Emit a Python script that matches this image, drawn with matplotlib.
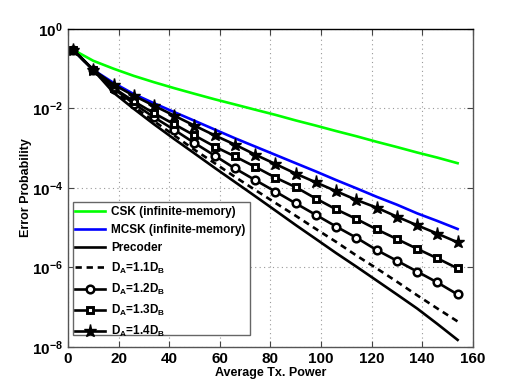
import numpy as np
import matplotlib
matplotlib.use("Agg")
import matplotlib.pyplot as plt
import matplotlib.patches as mpatches
from matplotlib.ticker import FixedLocator, LogFormatterSciNotation, NullLocator

plt.rcParams['font.family'] = ['Liberation Sans', 'DejaVu Sans']
plt.rcParams['font.weight'] = 'bold'
plt.rcParams['mathtext.fontset'] = 'custom'
plt.rcParams['mathtext.rm'] = 'Liberation Sans:bold'
plt.rcParams['mathtext.it'] = 'Liberation Sans:bold'
plt.rcParams['mathtext.bf'] = 'Liberation Sans:bold'

# average tx power
power = [2, 10, 18, 26, 34, 42, 50, 58, 66, 74, 82, 90, 98, 106, 114, 122, 130, 138, 146, 154]

csk = [0.30, 0.158, 0.100, 0.066, 0.0457, 0.0324, 0.0234, 0.0170, 0.0126, 9.3e-3,
       6.9e-3, 5.0e-3, 3.7e-3, 2.7e-3, 2.0e-3, 1.45e-3, 1.07e-3, 7.8e-4, 5.8e-4, 4.2e-4]
mcsk = [0.30, 0.093, 0.044, 0.023, 0.0135, 8.1e-3, 4.9e-3, 2.95e-3, 1.78e-3, 1.10e-3,
        6.8e-4, 4.2e-4, 2.6e-4, 1.58e-4, 9.8e-5, 6.0e-5, 3.8e-5, 2.3e-5, 1.48e-5, 9.3e-6]
precoder = [0.30, 0.093, 0.025, 9.8e-3, 4.0e-3, 1.70e-3, 7.4e-4, 3.2e-4, 1.41e-4, 6.2e-5,
            2.7e-5, 1.17e-5, 5.2e-6, 2.3e-6, 1.05e-6, 4.7e-7, 2.1e-7, 9.3e-8, 3.8e-8, 1.51e-8]
da11 = [0.30, 0.093, 0.028, 0.0112, 4.8e-3, 2.1e-3, 9.1e-4, 4.2e-4, 1.9e-4, 8.9e-5,
        4.2e-5, 2.0e-5, 9.3e-6, 4.4e-6, 2.0e-6, 9.5e-7, 4.4e-7, 2.0e-7, 9.3e-8, 4.4e-8]
da12 = [0.30, 0.093, 0.0316, 0.0132, 6.0e-3, 2.9e-3, 1.35e-3, 6.5e-4, 3.1e-4, 1.58e-4,
        8.1e-5, 4.1e-5, 2.1e-5, 1.07e-5, 5.6e-6, 2.75e-6, 1.48e-6, 7.9e-7, 4.2e-7, 2.1e-7]
da13 = [0.30, 0.093, 0.033, 0.0151, 7.6e-3, 4.0e-3, 2.1e-3, 1.10e-3, 6.2e-4, 3.4e-4,
        1.82e-4, 1.05e-4, 5.4e-5, 2.9e-5, 1.66e-5, 9.1e-6, 5.2e-6, 2.95e-6, 1.70e-6, 9.5e-7]
da14 = [0.30, 0.093, 0.040, 0.021, 0.0117, 6.6e-3, 3.7e-3, 2.1e-3, 1.23e-3, 6.9e-4,
        4.0e-4, 2.3e-4, 1.38e-4, 8.3e-5, 5.0e-5, 3.2e-5, 1.9e-5, 1.15e-5, 7.1e-6, 4.3e-6]

labels = ['CSK (infinite-memory)', 'MCSK (infinite-memory)', 'Precoder',
          r'D$_A$=1.1D$_B$', r'D$_A$=1.2D$_B$', r'D$_A$=1.3D$_B$', r'D$_A$=1.4D$_B$']
xticks = [0, 20, 40, 60, 80, 100, 120, 140, 160]
yticks = [1e-8, 1e-6, 1e-4, 1e-2, 1e0]

if __name__ == "__main__":
    fig = plt.figure(figsize=(5.23, 3.91), dpi=100)
    ax = fig.add_axes([0.130, 0.1125, 0.774, 0.8135])

    lw = 1.9
    ax.plot(power, csk, color='#00ff00', lw=lw, label=labels[0])
    ax.plot(power, mcsk, color='#0000ff', lw=lw, label=labels[1])
    ax.plot(power, precoder, color='k', lw=lw, label=labels[2])
    ax.plot(power, da11, color='k', lw=lw, ls=(0, (2.4, 1.8)), label=labels[3])
    ax.plot(power, da12, color='k', lw=lw, marker='o', ms=5.5, mfc='white', mew=1.8, label=labels[4])
    ax.plot(power, da13, color='k', lw=lw, marker='s', ms=5, mfc='white', mew=2.1, label=labels[5])
    ax.plot(power, da14, color='k', lw=lw, marker='*', ms=9.5, label=labels[6])

    ax.set_yscale('log')
    ax.set_xlim(0, 160)
    ax.set_ylim(1e-8, 1)
    ax.xaxis.set_major_locator(FixedLocator(xticks))
    ax.yaxis.set_major_locator(FixedLocator(yticks))
    ax.yaxis.set_major_formatter(LogFormatterSciNotation())
    ax.yaxis.set_minor_locator(NullLocator())
    ax.grid(True, which='major', ls=(0, (1, 3)), color='#999999', lw=0.8)
    ax.tick_params(direction='in', length=4, width=0.8, labelsize=11,
                   top=True, right=True, color='#444444')
    for lab in ax.get_xticklabels() + ax.get_yticklabels():
        lab.set_fontweight('bold')
    for sp in ax.spines.values():
        sp.set_color('#555555')
        sp.set_linewidth(1.0)
    ax.spines['top'].set_color('k')

    ax.set_xlabel('Average Tx. Power', fontsize=9, fontweight='bold', labelpad=1)
    ax.set_ylabel('Error Probability', fontsize=9, fontweight='bold', labelpad=0)

    # legend frame drawn separately (text spills out of it, like the original)
    box = mpatches.Rectangle((0.012, 0.038), 0.437, 0.418, transform=ax.transAxes,
                             facecolor='white', edgecolor='#666666', lw=1.0, zorder=4)
    ax.add_patch(box)
    leg = ax.legend(loc='upper left', bbox_to_anchor=(0.005, 0.458), frameon=False,
                    prop={'weight': 'bold', 'size': 8.5}, handlelength=2.6,
                    handletextpad=0.5, labelspacing=0.52, borderaxespad=0)
    leg.set_zorder(5)

    fig.savefig('out.png', dpi=100)
